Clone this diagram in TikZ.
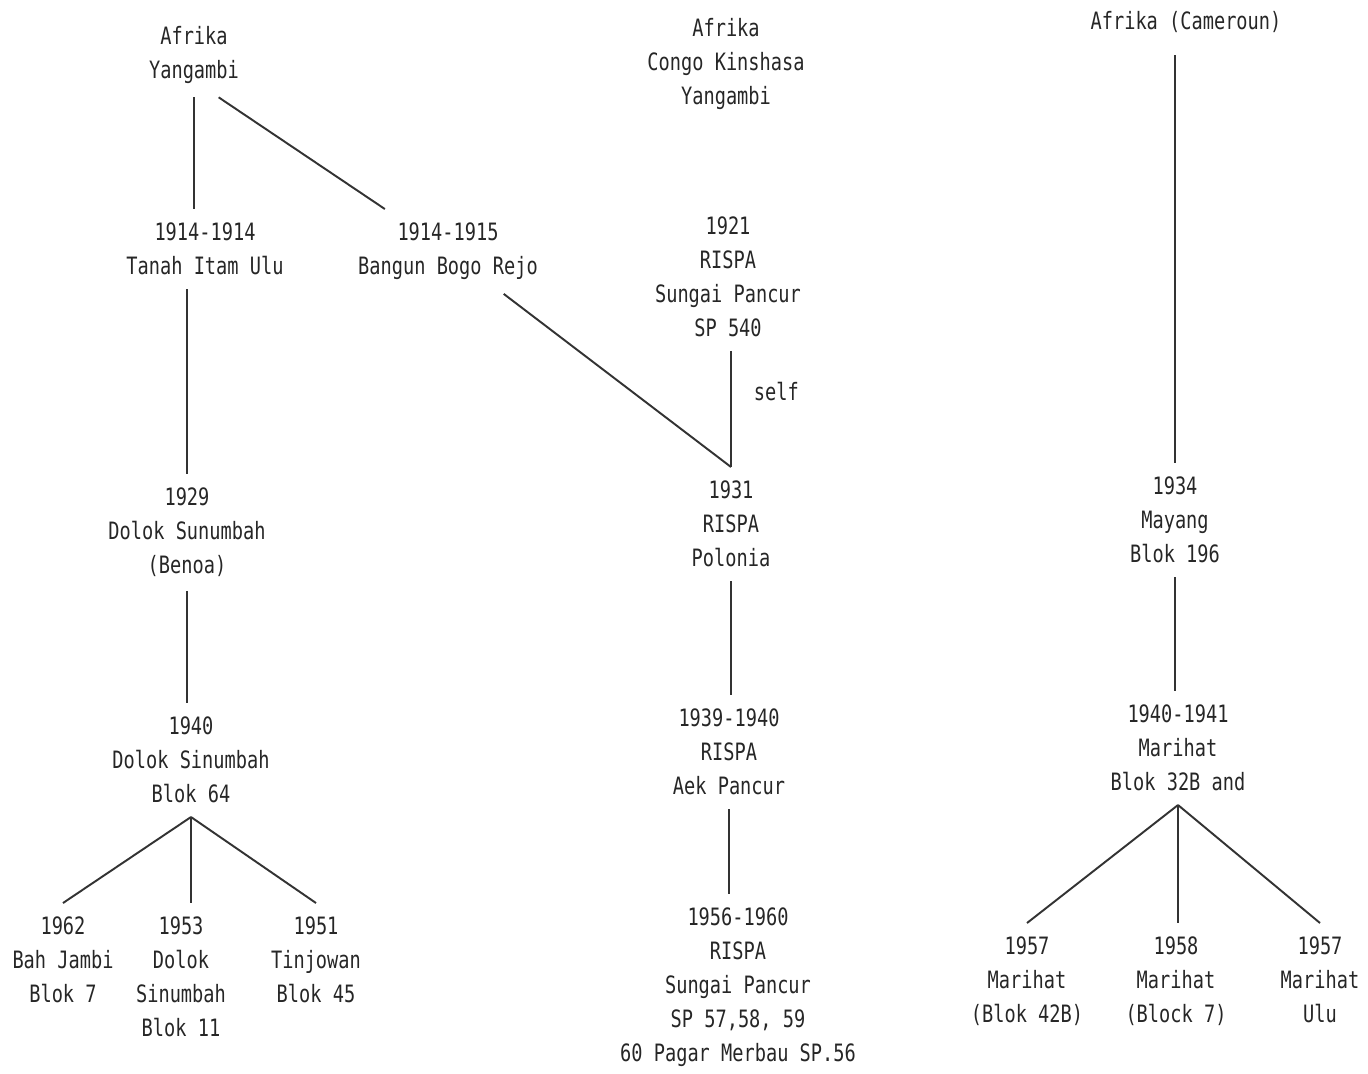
\documentclass[tikz,border=0pt]{standalone}
\usepackage{fontspec}
\newfontfamily\dotfont[FakeStretch=0.78]{DejaVu Sans Mono}
\begin{document}
\begin{tikzpicture}[x=0.02cm,y=-0.02cm,
  txt/.style={anchor=north, align=center, inner sep=0pt, outer sep=8pt, text=black!85,
    font={\dotfont\fontsize{13.6}{19.3}\selectfont}},
  link/.style={draw=black!80, line width=1.1pt}]
\useasboundingbox (0,0) rectangle (1368,1073);
% left line
\node[txt] (yangambi) at (194,12) {Afrika\\Yangambi};
\node[txt] (tanah) at (205,209) {1914-1914\\Tanah Itam Ulu};
\node[txt] (bangun) at (448,209) {1914-1915\\Bangun Bogo Rejo};
\node[txt] (benoa) at (187,474) {1929\\Dolok Sunumbah\\(Benoa)};
\node[txt] (blok64) at (191,703) {1940\\Dolok Sinumbah\\Blok 64};
\node[txt] (bahjambi) at (63,903) {1962\\Bah Jambi\\Blok 7};
\node[txt] (blok11) at (181,903) {1953\\Dolok\\Sinumbah\\Blok 11};
\node[txt] (tinjowan) at (316,903) {1951\\Tinjowan\\Blok 45};
% middle line
\node[txt] (congo) at (726,4) {Afrika\\Congo Kinshasa\\Yangambi};
\node[txt] (sp540) at (728,203) {1921\\RISPA\\Sungai Pancur\\SP 540};
\node[txt] (polonia) at (731,467) {1931\\RISPA\\Polonia};
\node[txt] (aek) at (729,695) {1939-1940\\RISPA\\Aek Pancur};
\node[txt] (sp56) at (738,894) {1956-1960\\RISPA\\Sungai Pancur\\SP 57,58, 59\\60 Pagar Merbau SP.56};
% right line
\node[txt] (cameroun) at (1186,-3) {Afrika (Cameroun)};
\node[txt] (mayang) at (1175,463) {1934\\Mayang\\Blok 196};
\node[txt] (marihat) at (1178,691) {1940-1941\\Marihat\\Blok 32B and};
\node[txt] (blok42b) at (1027,923) {1957\\Marihat\\(Blok 42B)};
\node[txt] (block7) at (1176,923) {1958\\Marihat\\(Block 7)};
\node[txt] (ulu) at (1320,923) {1957\\Marihat\\Ulu};
\coordinate (meet) at (polonia.north);
\coordinate (fork64) at (blok64.south);
\coordinate (forkmar) at (marihat.south);
\path[link] (yangambi.south) -- (yangambi.south |- tanah.north);
\path[link] (yangambi.-60) -- (bangun);
\path[link] (tanah.south -| benoa.north) -- (benoa.north);
\path[link] (benoa.south) -- (benoa.south |- blok64.north);
\path[link] (fork64) -- (bahjambi.north);
\path[link] (fork64) -- (fork64 |- blok11.north);
\path[link] (fork64) -- (tinjowan.north);
\path[link] (sp540.south -| meet) -- node[txt, right=13pt, outer sep=0pt, pos=0.35] (self) {self} (meet);
\path[link] (bangun) -- (meet);
\path[link] (polonia.south) -- (polonia.south |- aek.north);
\path[link] (aek.south) -- (aek.south |- sp56.north);
\path[link, shorten <=5pt] (cameroun.south -| mayang.north) -- (mayang.north);
\path[link] (mayang.south) -- (mayang.south |- marihat.north);
\path[link] (forkmar) -- (blok42b.north);
\path[link] (forkmar) -- (forkmar |- block7.north);
\path[link] (forkmar) -- (ulu.north);
\end{tikzpicture}
\end{document}
